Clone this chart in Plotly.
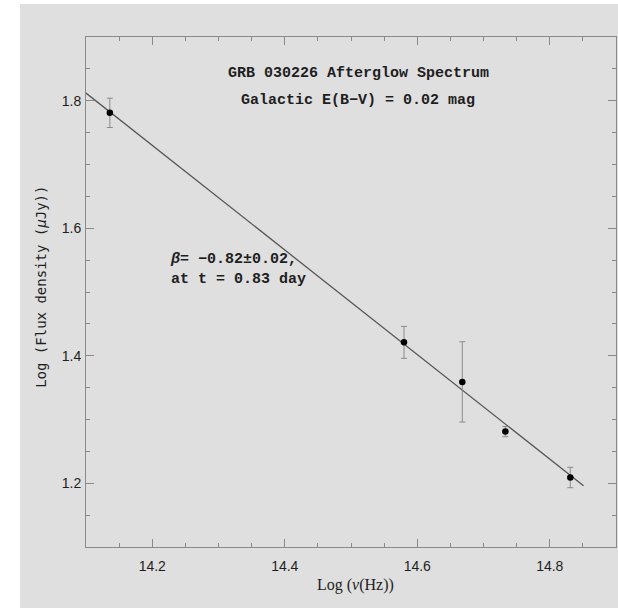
import plotly.graph_objects as go

# Data (log nu [Hz], log flux density [uJy], errors)
log_nu = [14.136, 14.580, 14.668, 14.733, 14.831]
log_flux = [1.781, 1.421, 1.359, 1.281, 1.209]
flux_err = [0.023, 0.025, 0.063, 0.008, 0.016]

# Power-law fit line (beta = -0.82)
fit_x = [14.10, 14.851]
fit_y = [1.812, 1.196]

x_ticks = [14.2, 14.4, 14.6, 14.8]
y_ticks = [1.2, 1.4, 1.6, 1.8]

BG = "#dfdfdf"
FRAME = "#8a8a8a"
TXT = "#1e1e1e"

fig = go.Figure()
fig.add_trace(go.Scatter(x=fit_x, y=fit_y, mode="lines",
                         line=dict(color="#555555", width=1.3),
                         hoverinfo="skip", showlegend=False))
fig.add_trace(go.Scatter(x=log_nu, y=log_flux, mode="markers",
                         marker=dict(color="black", size=6.5),
                         error_y=dict(type="data", array=flux_err, visible=True,
                                      color="#8a8a8a", thickness=1, width=3),
                         showlegend=False))

axis_common = dict(
    showgrid=False, zeroline=False, showline=True, linecolor=FRAME, linewidth=1,
    mirror="allticks", ticks="inside", ticklen=8, tickwidth=1, tickcolor=FRAME,
    minor=dict(ticks="inside", ticklen=4, tickcolor=FRAME, dtick=0.05, showgrid=False),
    tickfont=dict(family="Liberation Sans", size=14, color=TXT),
)

fig.update_layout(
    width=618, height=608,
    margin=dict(l=86, r=2, t=37, b=61),
    paper_bgcolor=BG, plot_bgcolor=BG,
    xaxis=dict(range=[14.1, 14.9], tickvals=x_ticks, ticktext=[str(v) for v in x_ticks],
               ticklabelstandoff=6, **axis_common),
    yaxis=dict(range=[1.1, 1.9], tickvals=y_ticks, ticktext=[str(v) for v in y_ticks],
               ticklabelstandoff=1, **axis_common),
    shapes=[
        dict(type="rect", xref="paper", yref="paper", x0=-0.2, x1=(20 - 86) / 530,
             y0=-0.2, y1=1.2, fillcolor="white", line=dict(width=0), layer="below"),
        dict(type="rect", xref="paper", yref="paper", x0=-0.2, x1=1.1,
             y0=1 + 33 / 510, y1=1.2, fillcolor="white", line=dict(width=0), layer="below"),
    ],
    annotations=[
        dict(x=14.512, y=1.843, xref="x", yref="y", showarrow=False,
             xanchor="center", yanchor="middle",
             text="<b>GRB 030226 Afterglow Spectrum</b>",
             font=dict(family="Liberation Mono", size=15, color=TXT)),
        dict(x=14.51, y=1.8, xref="x", yref="y", showarrow=False,
             xanchor="center", yanchor="middle",
             text="<b>Galactic E(B\u2212V) = 0.02 mag</b>",
             font=dict(family="Liberation Mono", size=15, color=TXT)),
        dict(x=14.2235, y=1.535, xref="x", yref="y", showarrow=False,
             xanchor="left", yanchor="middle", align="left",
             text="<b><i>\u03b2</i>= \u22120.82\u00b10.02,<br>at t = 0.83 day</b>",
             font=dict(family="Liberation Mono", size=15, color=TXT)),
        dict(x=-0.084, y=0.511, xref="paper", yref="paper", showarrow=False,
             xanchor="center", yanchor="middle",
             textangle=-90, text="Log (Flux density (<i>\u03bc</i>Jy))",
             font=dict(family="DejaVu Sans Mono", size=14, color=TXT)),
        dict(x=0.509, y=-0.074, xref="paper", yref="paper", showarrow=False,
             xanchor="center", yanchor="middle",
             text="Log (<i>\u03bd</i>(Hz))",
             font=dict(family="Liberation Serif", size=16, color=TXT)),
    ],
)

fig.write_html("out.html")
